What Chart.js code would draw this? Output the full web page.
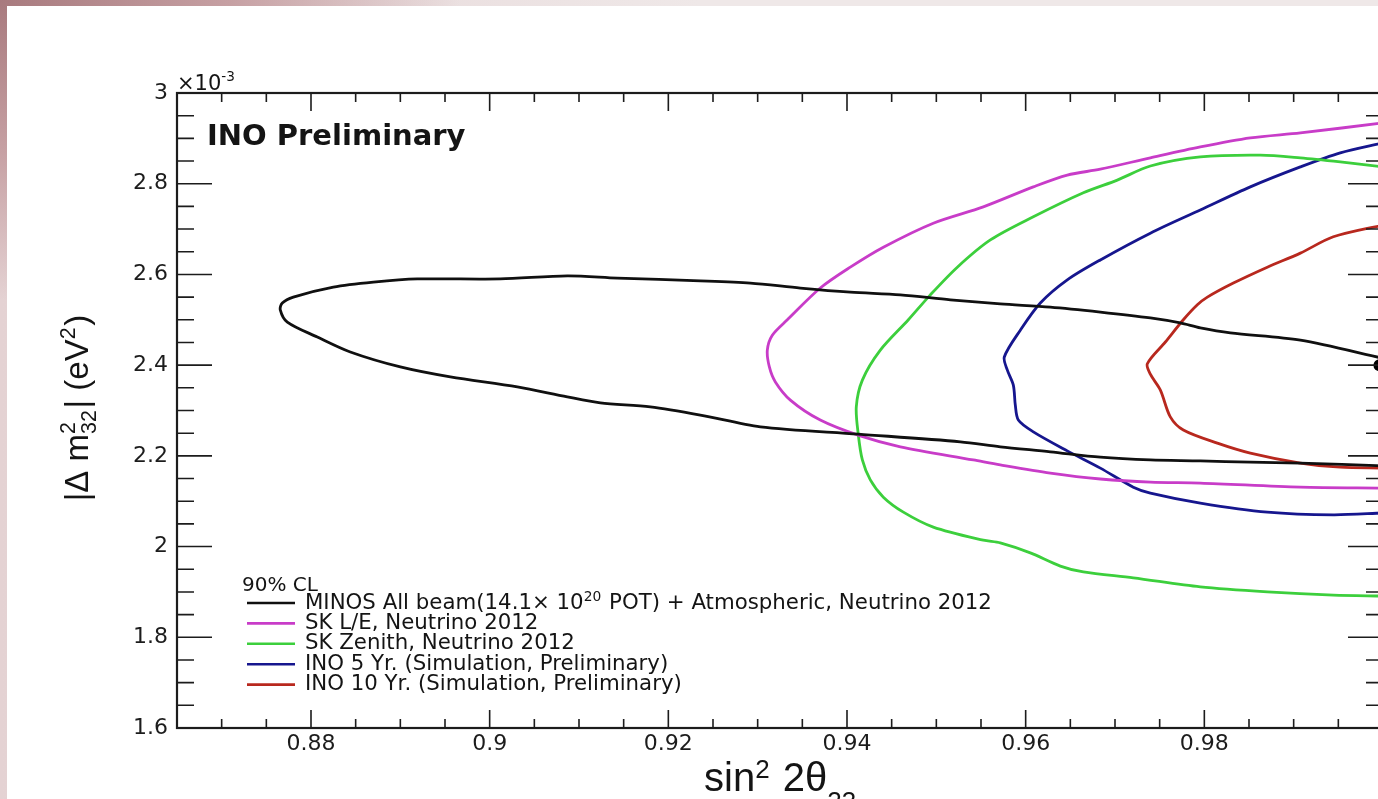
<!DOCTYPE html>
<html>
<head>
<meta charset="utf-8">
<title>|Δm²32| vs sin²2θ23 — 90% CL</title>
<script src="https://cdn.jsdelivr.net/npm/chart.js@4"></script>
<style>
  html, body { margin: 0; width: 1378px; height: 799px; overflow: hidden; }
  body {
    position: relative;
    background:
      radial-gradient(ellipse 460px 300px at 0 0, #a87a7e 0%, #c6a0a3 50%, rgba(236, 226, 227, 0) 100%),
      linear-gradient(90deg, #e4d2d3 0, #efe8e8 700px);
  }
  #plot { position: absolute; left: 7px; top: 6px; background: #fff; }
</style>
</head>
<body>
<canvas id="plot" width="1385" height="793"></canvas>
<script>
// axis ticks
const sin2Ticks = [0.88, 0.9, 0.92, 0.94, 0.96, 0.98, 1];
const dm2Ticks = [1.6, 1.8, 2, 2.2, 2.4, 2.6, 2.8, 3];

// contour traces: sin^2(2θ23) and |Δm²32| in units of 1e-3 eV²
const minosSin2 = [1.0, 0.99075, 0.98291, 0.97955, 0.97731, 0.97396, 0.96836, 0.96276, 0.95716, 0.95157,
  0.94597, 0.94037, 0.93478, 0.92918, 0.92358, 0.91429, 0.90869, 0.90119, 0.8919, 0.88698,
  0.8825, 0.87802, 0.87679, 0.87656, 0.87735, 0.88071, 0.8844, 0.89, 0.8956, 0.9031,
  0.90869, 0.91239, 0.91798, 0.92358, 0.9303, 0.94127, 0.95269, 0.95716, 0.96276, 0.96836,
  0.97396, 0.97955, 0.98515, 0.99075, 1.0];
const minosDm2 = [2.415, 2.455, 2.471, 2.482, 2.493, 2.504, 2.517, 2.528, 2.535, 2.544,
  2.555, 2.561, 2.570, 2.581, 2.586, 2.592, 2.597, 2.590, 2.590, 2.583,
  2.572, 2.550, 2.537, 2.522, 2.495, 2.462, 2.429, 2.396, 2.374, 2.352,
  2.330, 2.317, 2.308, 2.290, 2.264, 2.248, 2.231, 2.220, 2.209, 2.197,
  2.191, 2.189, 2.186, 2.184, 2.178];

const skLeSin2 = [1.0, 0.99075, 0.98515, 0.97955, 0.97396, 0.96836, 0.96466, 0.96086, 0.95526, 0.94966,
  0.94407, 0.94037, 0.93701, 0.93332, 0.93164, 0.93108, 0.93131, 0.93198, 0.93366, 0.93701,
  0.94149, 0.94597, 0.95414, 0.95716, 0.96276, 0.96836, 0.97396, 0.97955, 0.99075, 1.0];
const skLeDm2 = [2.934, 2.912, 2.901, 2.881, 2.857, 2.832, 2.819, 2.793, 2.749, 2.713,
  2.660, 2.616, 2.570, 2.500, 2.466, 2.433, 2.396, 2.363, 2.323, 2.279,
  2.244, 2.220, 2.191, 2.180, 2.162, 2.149, 2.142, 2.140, 2.131, 2.129];

const skZenSin2 = [1.0, 0.99522, 0.99075, 0.98627, 0.97955, 0.97396, 0.97026, 0.96646, 0.96086, 0.95605,
  0.95235, 0.94933, 0.94687, 0.94373, 0.94172, 0.94104, 0.94127, 0.94172, 0.94261, 0.94407,
  0.94631, 0.94966, 0.95526, 0.95716, 0.96052, 0.96388, 0.96646, 0.97205, 0.97955, 0.98705,
  0.99444, 1.0];
const skZenDm2 = [2.837, 2.848, 2.857, 2.863, 2.859, 2.839, 2.808, 2.780, 2.727, 2.676,
  2.616, 2.555, 2.500, 2.433, 2.367, 2.308, 2.246, 2.191, 2.147, 2.109,
  2.076, 2.043, 2.014, 2.008, 1.986, 1.957, 1.944, 1.931, 1.911, 1.900,
  1.893, 1.891];

const ino5Sin2 = [1.0, 0.99522, 0.99075, 0.98515, 0.97955, 0.97396, 0.96836, 0.96466, 0.96164, 0.9594,
  0.95761, 0.95795, 0.95862, 0.95884, 0.95918, 0.96086, 0.96466, 0.96836, 0.97205, 0.97396,
  0.97955, 0.98705, 0.99444, 1.0];
const ino5Dm2 = [2.890, 2.868, 2.837, 2.793, 2.742, 2.691, 2.632, 2.588, 2.537, 2.477,
  2.418, 2.389, 2.356, 2.312, 2.279, 2.253, 2.211, 2.173, 2.131, 2.118,
  2.096, 2.076, 2.070, 2.074];

const ino10Sin2 = [1.0, 0.99444, 0.99075, 0.98705, 0.98325, 0.98034, 0.97922, 0.97765, 0.97564, 0.97362,
  0.97396, 0.97508, 0.97619, 0.97765, 0.98146, 0.98515, 0.99075, 0.99522, 1.0];
const ino10Dm2 = [2.709, 2.683, 2.647, 2.616, 2.581, 2.550, 2.533, 2.500, 2.451, 2.403,
  2.380, 2.345, 2.286, 2.257, 2.228, 2.206, 2.184, 2.175, 2.173];

// best fit point
const bestSin2 = [0.9996];
const bestDm2 = [2.4];

const legendTitle = '90% CL';
const seriesLabels = [
  'MINOS All beam(14.1× 10^{20} POT) + Atmospheric, Neutrino 2012',
  'SK L/E, Neutrino 2012',
  'SK Zenith, Neutrino 2012',
  'INO 5 Yr. (Simulation, Preliminary)',
  'INO 10 Yr. (Simulation, Preliminary)'
];
const seriesColors = ['#101010', '#c83cc8', '#3ccf3c', '#16168e', '#b8281e'];

const WIDE = '"DejaVu Sans", sans-serif';
const HELV = '"Liberation Sans", Arial, sans-serif';

function toPoints(xs, ys) {
  return xs.map((x, i) => ({x: x, y: ys[i]}));
}

// text with ^{sup} and _{sub} pieces; a sup directly followed by a sub is stacked
function drawRich(ctx, text, x, y, opt) {
  const size = opt.size;
  const weight = opt.weight || 'normal';
  const small = size * (opt.scriptScale || 0.65);
  const up = size * (opt.supRaise || 0.36);
  const down = size * (opt.subDrop || 0.3);
  const parts = [];
  const re = /\^\{([^}]*)\}(?:_\{([^}]*)\})?|_\{([^}]*)\}|[^^_]+/g;
  let m;
  while ((m = re.exec(text)) !== null) {
    if (m[0][0] === '^') parts.push({sup: m[1], sub: m[2] || ''});
    else if (m[0][0] === '_') parts.push({sup: '', sub: m[3]});
    else parts.push({text: m[0]});
  }
  const bigFont = `${weight} ${size}px ${opt.family}`;
  const smallFont = `${weight} ${small}px ${opt.family}`;
  const widths = parts.map(p => {
    if (p.text !== undefined) {
      ctx.font = bigFont;
      return ctx.measureText(p.text).width;
    }
    ctx.font = smallFont;
    return Math.max(ctx.measureText(p.sup).width, ctx.measureText(p.sub).width) + size * 0.05;
  });
  const total = widths.reduce((s, w) => s + w, 0);
  let cx = opt.align === 'center' ? x - total / 2 : x;
  ctx.textAlign = 'left';
  ctx.textBaseline = 'alphabetic';
  parts.forEach((p, i) => {
    if (p.text !== undefined) {
      ctx.font = bigFont;
      ctx.fillText(p.text, cx, y);
    } else {
      ctx.font = smallFont;
      if (p.sup) ctx.fillText(p.sup, cx, y - up);
      if (p.sub) ctx.fillText(p.sub, cx, y + down);
    }
    cx += widths[i];
  });
}

// frame with inward ticks on all four sides
const frameTicks = {
  id: 'frameTicks',
  afterDatasetsDraw(chart) {
    const {ctx, chartArea: a} = chart;
    const sx = chart.scales.x;
    const sy = chart.scales.y;
    ctx.save();
    ctx.strokeStyle = '#1c1c1c';
    ctx.lineWidth = 1.6;
    ctx.beginPath();
    const nx = Math.round((sx.max - sx.min) / 0.005);
    for (let i = 1; i < nx; i++) {
      const v = sx.min + i * 0.005;
      const major = Math.abs(v * 50 - Math.round(v * 50)) < 1e-6;
      const px = sx.getPixelForValue(v);
      const len = major ? 18 : 9;
      ctx.moveTo(px, a.bottom);
      ctx.lineTo(px, a.bottom - len);
      ctx.moveTo(px, a.top);
      ctx.lineTo(px, a.top + len);
    }
    const ny = Math.round((sy.max - sy.min) / 0.05);
    for (let i = 1; i < ny; i++) {
      const v = sy.min + i * 0.05;
      const major = Math.abs(v * 5 - Math.round(v * 5)) < 1e-6;
      const py = sy.getPixelForValue(v);
      const len = major ? 35 : 17;
      ctx.moveTo(a.left, py);
      ctx.lineTo(a.left + len, py);
      ctx.moveTo(a.right, py);
      ctx.lineTo(a.right - len, py);
    }
    ctx.stroke();
    ctx.lineWidth = 2.2;
    ctx.strokeRect(a.left, a.top, a.right - a.left, a.bottom - a.top);
    ctx.restore();
  }
};

// exponent, label, legend and axis titles
const annotations = {
  id: 'annotations',
  afterDraw(chart) {
    const {ctx, chartArea: a} = chart;
    ctx.save();
    ctx.fillStyle = '#141414';
    drawRich(ctx, '×10^{-3}', a.left, a.top - 3, {size: 21, family: WIDE, supRaise: 0.42});
    drawRich(ctx, 'INO Preliminary', a.left + 30, a.top + 52, {size: 29, family: WIDE, weight: 'bold'});

    // legend
    drawRich(ctx, legendTitle, a.left + 65, a.bottom - 137, {size: 20, family: WIDE});
    seriesLabels.forEach((label, i) => {
      const base = a.bottom - 119.5 + i * 20.4;
      ctx.strokeStyle = seriesColors[i];
      ctx.lineWidth = 2.6;
      ctx.beginPath();
      ctx.moveTo(a.left + 70, base - 5.5);
      ctx.lineTo(a.left + 118, base - 5.5);
      ctx.stroke();
      drawRich(ctx, label, a.left + 128, base, {size: 21.3, family: WIDE});
    });

    // axis titles
    drawRich(ctx, 'sin^{2} 2θ_{23}', 697, 785, {size: 40, family: HELV, supRaise: 0.33, subDrop: 0.47});
    ctx.translate(81, 402);
    ctx.rotate(-Math.PI / 2);
    drawRich(ctx, '|Δ m^{2}_{32}| (eV^{2})', 0, 0, {size: 33, family: HELV, align: 'center', supRaise: 0.4, subDrop: 0.25});
    ctx.restore();
  }
};

const contourSets = [
  [minosSin2, minosDm2],
  [skLeSin2, skLeDm2],
  [skZenSin2, skZenDm2],
  [ino5Sin2, ino5Dm2],
  [ino10Sin2, ino10Dm2]
].map(([xs, ys], i) => ({
  label: seriesLabels[i],
  data: toPoints(xs, ys),
  showLine: true,
  borderColor: seriesColors[i],
  borderWidth: 2.8,
  pointRadius: 0,
  tension: 0.3
}));

const bestFit = {
  label: 'best fit',
  data: toPoints(bestSin2, bestDm2),
  showLine: false,
  pointRadius: 6,
  pointBackgroundColor: '#000',
  pointBorderWidth: 0,
  clip: false
};

const tickFont = {family: 'DejaVu Sans', size: 22};

new Chart(document.getElementById('plot'), {
  type: 'scatter',
  data: {datasets: [...contourSets, bestFit]},
  options: {
    responsive: false,
    animation: false,
    layout: {padding: {left: 0, top: 87, right: 9, bottom: 0}},
    plugins: {legend: {display: false}, tooltip: {enabled: false}},
    scales: {
      x: {
        type: 'linear',
        min: 0.865,
        max: 1,
        afterBuildTicks: s => { s.ticks = sin2Ticks.map(v => ({value: v})); },
        afterFit: s => { s.height = 71; s.paddingLeft = 0; s.paddingRight = 0; },
        grid: {display: false, drawTicks: false},
        border: {display: false},
        ticks: {padding: 3, color: '#1c1c1c', font: tickFont, autoSkip: false, maxRotation: 0, callback: v => String(v)}
      },
      y: {
        type: 'linear',
        min: 1.6,
        max: 3,
        afterBuildTicks: s => { s.ticks = dm2Ticks.map(v => ({value: v})); },
        afterFit: s => { s.width = 170; },
        grid: {display: false, drawTicks: false},
        border: {display: false},
        ticks: {padding: 9, color: '#1c1c1c', font: tickFont, callback: v => String(v)}
      }
    }
  },
  plugins: [frameTicks, annotations]
});
</script>
</body>
</html>
